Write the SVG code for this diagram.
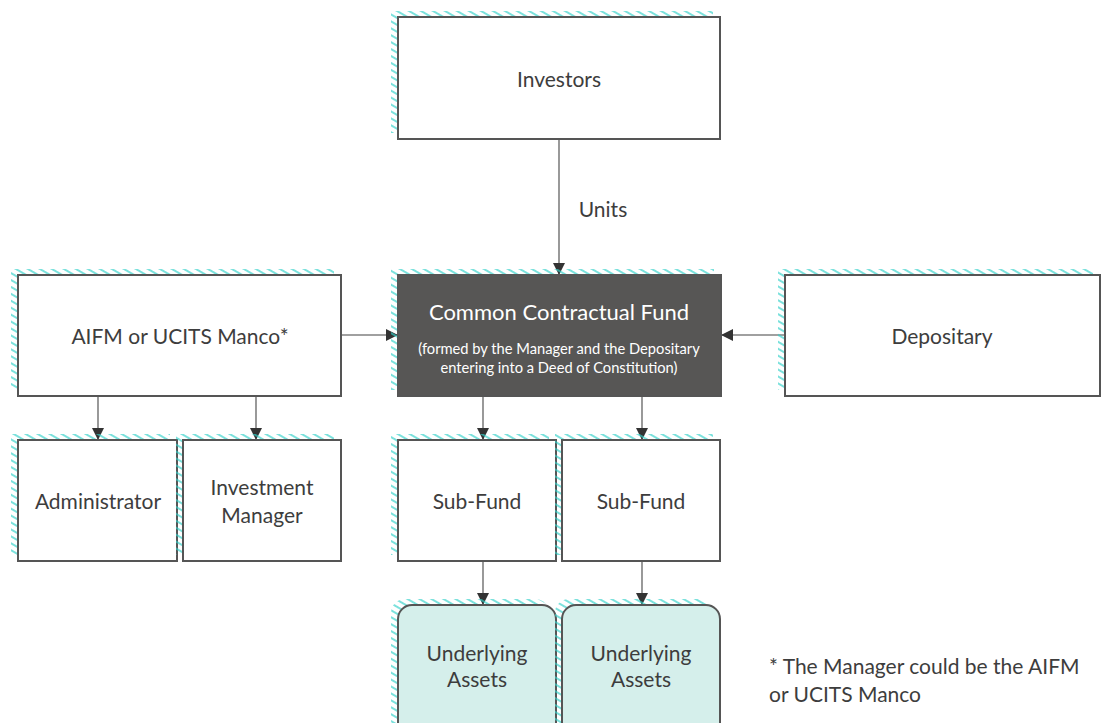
<svg xmlns="http://www.w3.org/2000/svg" width="1108" height="723" viewBox="0 0 1108 723">
<defs>
<pattern id="hatch" patternUnits="userSpaceOnUse" width="6" height="6" patternTransform="rotate(30)">
<line x1="-1" y1="3" x2="7" y2="3" stroke="#33d1c9" stroke-width="1.3"/>
</pattern>
<marker id="arr" markerUnits="userSpaceOnUse" markerWidth="12" markerHeight="12" refX="11" refY="6" orient="auto">
<path d="M0,0 L12,6 L0,12 z" fill="#333"/>
</marker>
</defs>
<style>
.sh{fill:url(#hatch);}
.box{fill:#fff;stroke:#555;stroke-width:2;}
.dark{fill:#575655;stroke:#555;stroke-width:2;}
.asset{fill:#d5efeb;stroke:#555;stroke-width:2;}
.t{font-family:Lato,"Liberation Sans",sans-serif;font-size:21px;fill:#3d3d3d;text-anchor:middle;}
.tw{font-family:Lato,"Liberation Sans",sans-serif;fill:#fff;text-anchor:middle;}
.note{font-family:Lato,"Liberation Sans",sans-serif;font-size:21px;fill:#3d3d3d;}
.c{stroke:#808080;stroke-width:1.6;fill:none;marker-end:url(#arr);}
</style>
<rect width="1108" height="723" fill="#fff"/>
<g id="connectors">
<line class="c" x1="559" y1="139" x2="559" y2="274"/>
<line class="c" x1="341" y1="335" x2="397" y2="335"/>
<line class="c" x1="785" y1="335" x2="722" y2="335"/>
<line class="c" x1="98" y1="396" x2="98" y2="439"/>
<line class="c" x1="256" y1="396" x2="256" y2="439"/>
<line class="c" x1="483" y1="396" x2="483" y2="439"/>
<line class="c" x1="642" y1="396" x2="642" y2="439"/>
<line class="c" x1="483" y1="561" x2="483" y2="604"/>
<line class="c" x1="642" y1="561" x2="642" y2="604"/>
<text class="t" x="603" y="217">Units</text>
</g>
<g id="investors">
<rect class="sh" x="391" y="11" width="322" height="122"/>
<rect class="box" x="398" y="17" width="322" height="122"/>
<text class="t" x="559" y="87">Investors</text>
</g>
<g id="aifm">
<rect class="sh" x="11" y="269" width="323" height="121"/>
<rect class="box" x="18" y="275" width="323" height="121"/>
<text class="t" x="180" y="344">AIFM or UCITS Manco*</text>
</g>
<g id="ccf">
<rect class="sh" x="391" y="269" width="323" height="121"/>
<rect class="dark" x="398" y="275" width="323" height="121"/>
<text class="tw" x="559" y="320" font-size="22">Common Contractual Fund</text>
<text class="tw" x="559" y="354" font-size="14.7">(formed by the Manager and the Depositary</text>
<text class="tw" x="559" y="373" font-size="14.7">entering into a Deed of Constitution)</text>
</g>
<g id="depositary">
<rect class="sh" x="778" y="269" width="315" height="121"/>
<rect class="box" x="785" y="275" width="315" height="121"/>
<text class="t" x="942" y="344">Depositary</text>
</g>
<g id="administrator">
<rect class="sh" x="11" y="434" width="159" height="121"/>
<rect class="box" x="18" y="440" width="159" height="121"/>
<text class="t" x="98" y="509">Administrator</text>
</g>
<g id="investment-manager">
<rect class="sh" x="176" y="434" width="158" height="121"/>
<rect class="box" x="183" y="440" width="158" height="121"/>
<text class="t" x="262" y="495">Investment</text>
<text class="t" x="262" y="523">Manager</text>
</g>
<g id="subfund1">
<rect class="sh" x="391" y="434" width="158" height="121"/>
<rect class="box" x="398" y="440" width="158" height="121"/>
<text class="t" x="477" y="509">Sub-Fund</text>
</g>
<g id="subfund2">
<rect class="sh" x="555" y="434" width="158" height="121"/>
<rect class="box" x="562" y="440" width="158" height="121"/>
<text class="t" x="641" y="509">Sub-Fund</text>
</g>
<g id="assets1">
<rect class="sh" x="391" y="599" width="158" height="135" rx="14"/>
<rect class="asset" x="398" y="605" width="158" height="135" rx="14"/>
<text class="t" x="477" y="661">Underlying</text>
<text class="t" x="477" y="687">Assets</text>
</g>
<g id="assets2">
<rect class="sh" x="555" y="599" width="158" height="135" rx="14"/>
<rect class="asset" x="562" y="605" width="158" height="135" rx="14"/>
<text class="t" x="641" y="661">Underlying</text>
<text class="t" x="641" y="687">Assets</text>
</g>
<g id="footnote">
<text class="note" x="769" y="674">* The Manager could be the AIFM</text>
<text class="note" x="769" y="702">or UCITS Manco</text>
</g>
</svg>
